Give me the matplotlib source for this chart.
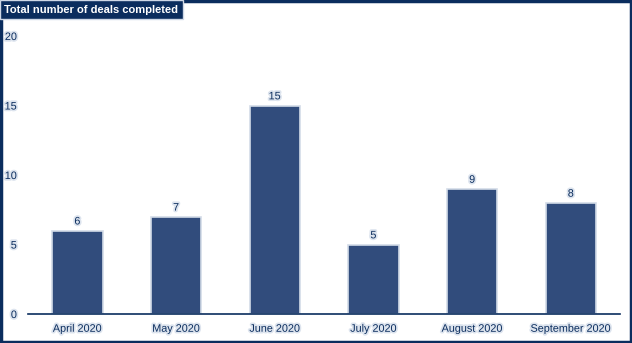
import matplotlib
matplotlib.use("Agg")
import matplotlib.pyplot as plt
import matplotlib.patheffects as pe
from matplotlib.patches import Rectangle

months = ["April 2020", "May 2020", "June 2020", "July 2020", "August 2020", "September 2020"]
deals = [6, 7, 15, 5, 9, 8]
y_ticks = [0, 5, 10, 15, 20]

navy = "#0b2d5e"
bar_col = "#314c7c"
halo = "#dde4ee"
glow = [pe.withStroke(linewidth=2.5, foreground=halo)]

plt.rcParams["font.family"] = ["Liberation Sans", "DejaVu Sans"]

fig = plt.figure(figsize=(6.32, 3.43), dpi=100)
ax = fig.add_axes([0.0443, 0.0845, 0.937, 0.8105])

x = list(range(len(months)))
ax.bar(x, deals, width=0.51, color=bar_col, edgecolor="#d3dbe7", linewidth=1.2, zorder=2)

for xi, v in zip(x, deals):
    ax.text(xi, v + 0.3, str(v), ha="center", va="bottom", fontsize=7.8, color=navy,
            path_effects=glow)

ax.set_xlim(-0.5, len(months) - 0.5)
ax.set_ylim(0, 20)
ax.set_xticks(x)
ax.set_xticklabels(months)
ax.set_yticks(y_ticks)
ax.set_yticklabels([str(t) for t in y_ticks])
ax.tick_params(axis="both", length=0, labelsize=7.8, labelcolor=navy)
ax.tick_params(axis="y", pad=8)
ax.tick_params(axis="x", pad=7)
for lbl in ax.get_xticklabels() + ax.get_yticklabels():
    lbl.set_path_effects(glow)

for s in ["top", "right", "left"]:
    ax.spines[s].set_visible(False)
ax.spines["bottom"].set_color(navy)
ax.spines["bottom"].set_linewidth(1.2)

# outer frame
fig.patches.append(Rectangle((0.002, 0.003), 0.996, 0.994, transform=fig.transFigure,
                             fill=False, ec=navy, lw=2.5))
# title box
fig.patches.append(Rectangle((0, 1 - 19 / 343), 183 / 632, 19 / 343, transform=fig.transFigure,
                             fc=navy, ec="#cfd8e6", lw=1))
fig.text(4 / 632, 1 - 10 / 343, "Total number of deals completed", color="white",
         fontsize=8, fontweight="bold", va="center", ha="left")

fig.savefig("out.png", dpi=100)
